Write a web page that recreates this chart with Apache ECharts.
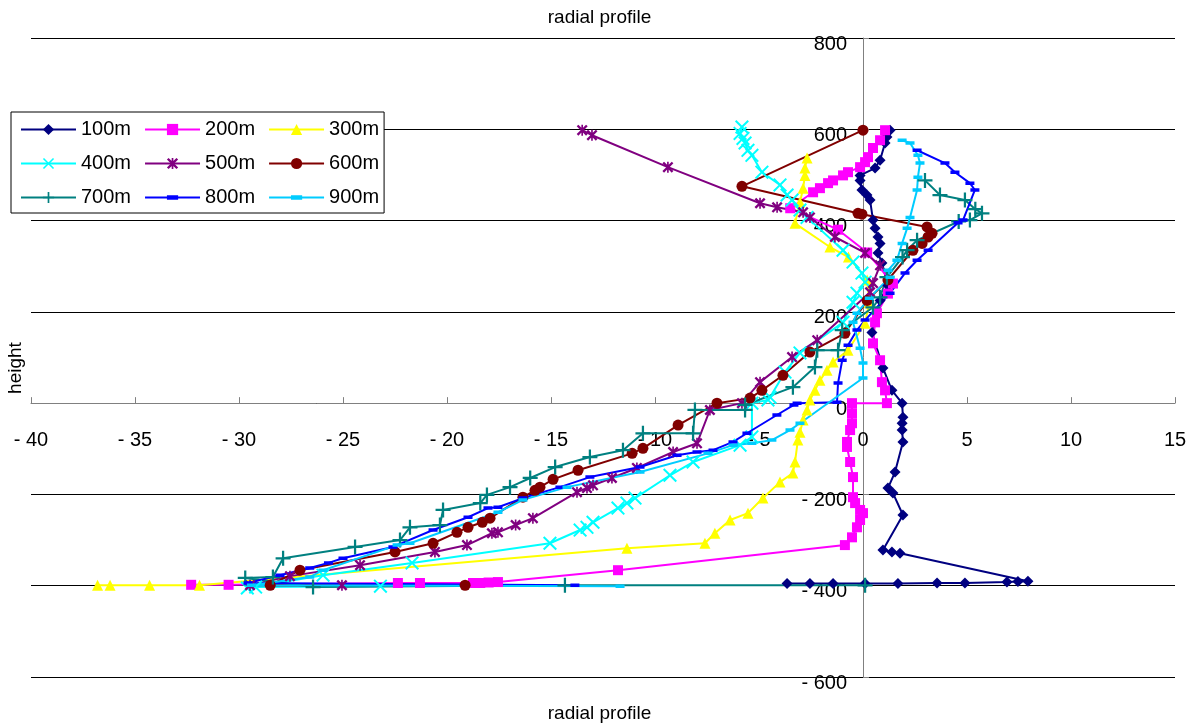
<!DOCTYPE html>
<html>
<head>
<meta charset="utf-8">
<script src="https://cdn.jsdelivr.net/npm/echarts@6/dist/echarts.min.js"></script>
<style>
  html, body { margin: 0; padding: 0; background: #fff; }
  #chart { width: 1199px; height: 728px; }
</style>
</head>
<body>
<div id="chart"></div>
<script>
// Radial profiles: [radial value, height] pairs for each distance
const seriesNames = ['100m', '200m', '300m', '400m', '500m', '600m', '700m', '800m', '900m'];

const s100 = [[1.3,598],[1.15,583],[1.06,570],[0.82,532],[0.58,515],[-0.14,499],[-0.14,488],[-0.05,467],[0.19,456],[0.34,445],[0.48,401],[0.58,383],[0.72,364],[0.82,350],[0.72,329],[0.91,307],[1.2,258],[0.82,225],[0.43,155],[0.96,77],[1.39,28],[1.88,0],[1.92,-31],[1.88,-44],[1.88,-59],[1.92,-85],[1.54,-151],[1.2,-186],[1.44,-197],[1.92,-245],[0.96,-322],[1.39,-326],[1.78,-329],[7.93,-390],[7.45,-391],[6.92,-392],[4.9,-394],[3.56,-394],[1.68,-395],[0.1,-395],[-1.44,-395],[-2.55,-395],[-3.65,-395]];

const s200 = [[1.06,598],[0.82,576],[0.48,559],[0.24,539],[0.1,528],[-0.14,517],[-0.72,506],[-0.96,499],[-1.44,488],[-1.68,482],[-2.07,471],[-2.4,462],[-3.5,427],[-1.2,380],[0.2,330],[1.44,262],[1.2,240],[0.67,197],[0.58,177],[0.48,131],[0.82,94],[0.91,46],[1.06,28],[1.15,0],[-0.53,0],[-0.53,-22],[-0.53,-44],[-0.62,-59],[-0.77,-85],[-0.77,-96],[-0.62,-129],[-0.48,-162],[-0.48,-206],[-0.38,-219],[-0.14,-234],[0,-241],[-0.14,-256],[-0.29,-272],[-0.53,-294],[-0.87,-311],[-11.78,-366],[-17.55,-392],[-18.0,-393],[-18.4,-394],[-18.75,-394],[-21.3,-394],[-22.36,-394],[-30.5,-398],[-32.3,-398]];

const s300 = [[-2.69,537],[-2.79,515],[-2.79,499],[-2.88,471],[-3.03,440],[-3.27,394],[-1.59,342],[-0.7,320],[0.2,270],[0.3,220],[0.1,175],[-0.72,116],[-1.44,90],[-1.73,72],[-2.07,50],[-2.31,28],[-2.55,7],[-2.69,-15],[-2.88,-37],[-3.03,-64],[-3.13,-81],[-3.27,-129],[-3.37,-153],[-3.99,-173],[-4.81,-208],[-5.53,-241],[-6.39,-256],[-7.12,-285],[-7.6,-307],[-11.35,-318],[-31.9,-399],[-34.3,-399],[-36.2,-399],[-36.8,-399]];

const s400 = [[-5.82,605],[-5.91,591],[-5.77,580],[-5.67,570],[-5.53,554],[-5.34,543],[-4.86,506],[-3.99,478],[-3.65,456],[-3.41,445],[-3.03,423],[-2.69,407],[-0.96,335],[-0.48,309],[-0.05,285],[0.1,265],[-0.29,241],[-0.48,221],[-0.96,177],[-3.03,110],[-3.75,68],[-4.47,13],[-4.57,7],[-5.34,0],[-5.34,-74],[-5.91,-92],[-8.17,-129],[-9.28,-158],[-10.96,-208],[-11.35,-219],[-11.78,-230],[-12.98,-261],[-13.27,-272],[-13.6,-278],[-15.05,-307],[-21.68,-350],[-25.96,-377],[-29.6,-405],[-29.2,-403],[-23.2,-401]];

const s500 = [[-13.5,598],[-13.03,587],[-9.38,517],[-4.95,438],[-4.13,429],[-2.88,418],[-2.55,407],[-1.35,364],[0.1,329],[0.82,302],[0.48,263],[0.34,243],[-2.2,138],[-3.41,101],[-4.95,46],[-5.82,0],[-7.36,-15],[-7.98,-88],[-9.13,-107],[-10.87,-142],[-12.07,-164],[-12.98,-180],[-13.27,-186],[-13.75,-195],[-15.87,-252],[-16.7,-267],[-17.55,-283],[-17.84,-285],[-19.04,-311],[-20.58,-326],[-24.18,-355],[-27.55,-379],[-29.47,-399],[-25.05,-399]];

const s600 = [[0,598],[-5.82,475],[-0.24,416],[-0.05,414],[3.08,386],[3.32,372],[3.13,364],[2.84,350],[2.4,335],[1.2,270],[0.2,225],[-0.87,153],[-2.55,112],[-3.85,61],[-4.86,28],[-5.43,11],[-7.02,0],[-8.89,-48],[-10.58,-99],[-11.1,-110],[-13.7,-147],[-14.9,-167],[-15.53,-184],[-15.77,-191],[-16.35,-206],[-17.93,-252],[-18.3,-261],[-18.99,-272],[-19.52,-283],[-20.67,-307],[-22.5,-326],[-27.07,-366],[-28.5,-399],[-19.13,-399]];

const s700 = [[2.98,488],[3.7,456],[4.9,445],[5.4,425],[5.72,416],[5.14,401],[4.6,398],[2.6,357],[2.12,335],[1.9,320],[1.15,276],[0.82,232],[0.48,210],[-1.0,160],[-1.2,116],[-2.2,116],[-2.31,79],[-3.37,35],[-5.67,-4],[-5.67,-15],[-8.08,-15],[-8.17,-66],[-10.58,-66],[-11.54,-103],[-13.13,-118],[-14.8,-140],[-16.0,-164],[-16.97,-184],[-18.08,-201],[-18.4,-219],[-20.19,-234],[-20.34,-267],[-21.78,-272],[-22.26,-300],[-24.42,-315],[-27.88,-340],[-28.37,-381],[-29.7,-383],[-26.44,-403],[-14.33,-399],[0.1,-399]];

const s800 = [[2.6,554],[3.94,526],[4.42,506],[5.14,482],[5.38,467],[4.81,401],[4.57,395],[3.13,335],[2.6,313],[2.02,285],[1.3,241],[0.1,182],[-0.29,160],[-0.72,127],[-1.0,94],[-1.2,44],[-1.25,2],[-3.17,0],[-3.32,-4],[-4.14,-26],[-5.58,-66],[-6.25,-85],[-7.21,-103],[-7.98,-107],[-8.94,-114],[-10.72,-140],[-13.13,-162],[-14.57,-184],[-16.35,-208],[-17.55,-228],[-18.03,-230],[-18.99,-250],[-20.67,-278],[-22.6,-315],[-25.0,-340],[-25.7,-350],[-26.6,-361],[-28.03,-377],[-29.57,-394],[-13.85,-399]];

const s900 = [[1.88,576],[2.26,570],[2.64,543],[2.74,526],[2.64,495],[2.6,467],[2.26,407],[2.12,383],[1.88,350],[1.63,313],[1.2,291],[1.3,276],[0.3,230],[-0.29,197],[-0.48,177],[-0.14,120],[0,88],[0,55],[-3.03,-44],[-3.51,-59],[-4.38,-81],[-5.34,-88],[-6.25,-92],[-7.45,-110],[-10.72,-151],[-14.23,-184],[-16.35,-212],[-17.55,-239],[-21.78,-307],[-22.4,-311],[-25.96,-366],[-26.6,-381],[-29.4,-399],[-11.68,-401]];

const seriesData = [s100, s200, s300, s400, s500, s600, s700, s800, s900];

// Axis ranges and tick steps
const xRange = [-40, 15, 5];
const yRange = [-600, 800, 200];

// Plot box in pixels; both axes are drawn through the origin
const GRID = { left: 31, right: 24, top: 38, bottom: 51 };
const PLOT_W = 1199 - GRID.left - GRID.right;
const PLOT_H = 728 - GRID.top - GRID.bottom;
const xZeroOffset = -PLOT_H * (0 - yRange[0]) / (yRange[1] - yRange[0]);
const yZeroOffset = -PLOT_W * (0 - xRange[0]) / (xRange[1] - xRange[0]);

// Marker shapes: diamond, square, triangle, cross, asterisk, dot, plus, dash, dash
const markX = 'path://M0,2L2,0L10,8L18,0L20,2L12,10L20,18L18,20L10,12L2,20L0,18L8,10Z';
const markStar = 'path://M0,3L3,0L10,7L17,0L20,3L13,10L20,17L17,20L10,13L3,20L0,17L7,10Z M8.5,0L11.5,0L11.5,20L8.5,20Z';
const markPlus = 'path://M8.5,0H11.5V8.5H20V11.5H11.5V20H8.5V11.5H0V8.5H8.5Z';
// a flat bar centred in a square box (tiny specks keep the box square)
const markDash = 'path://M0,5.5H18V12.5H0Z M9,0L9.01,0L9,0.01Z M9,18L9.01,18L9,17.99Z';
const styles = [
  { color: '#000080', symbol: 'diamond', size: 11 },
  { color: '#FF00FF', symbol: 'rect', size: 10 },
  { color: '#FFFF00', symbol: 'triangle', size: 11 },
  { color: '#00FFFF', symbol: markX, size: 14 },
  { color: '#800080', symbol: markStar, size: 11 },
  { color: '#800000', symbol: 'circle', size: 11 },
  { color: '#008080', symbol: markPlus, size: 15 },
  { color: '#0000FF', symbol: markDash, size: 9 },
  { color: '#00CCFF', symbol: markDash, size: 9 }
];

const FONT = "'Liberation Sans', Arial, sans-serif";
const fmt = v => (v < 0 ? '- ' + Math.abs(v) : String(v));

const chart = echarts.init(document.getElementById('chart'), null, { renderer: 'canvas' });

chart.setOption({
  animation: false,
  backgroundColor: '#ffffff',
  textStyle: { fontFamily: FONT },
  grid: { left: GRID.left, right: GRID.right, top: GRID.top, bottom: GRID.bottom, containLabel: false, outerBoundsMode: 'none' },
  legend: {
    left: 11, top: 112, width: 360,
    orient: 'horizontal',
    padding: [7, 5, 5, 9],
    itemWidth: 55, itemHeight: 14, itemGap: 13,
    backgroundColor: '#ffffff',
    borderColor: '#000000', borderWidth: 1,
    textStyle: { fontSize: 20, color: '#000', fontFamily: FONT, lineHeight: 21 },
    data: seriesNames
  },
  xAxis: {
    type: 'value', position: 'bottom', offset: xZeroOffset,
    min: xRange[0], max: xRange[1], interval: xRange[2],
    axisLine: { onZero: false, lineStyle: { color: '#808080', width: 1 } },
    axisTick: { show: true, inside: true, length: 6, lineStyle: { color: '#808080' } },
    axisLabel: { formatter: fmt, fontSize: 20, color: '#000', margin: 27, fontFamily: FONT },
    splitLine: { show: false }
  },
  yAxis: {
    type: 'value', position: 'left', offset: yZeroOffset,
    min: yRange[0], max: yRange[1], interval: yRange[2],
    axisLine: { onZero: false, lineStyle: { color: '#808080', width: 1 } },
    axisTick: { show: true, inside: true, length: 6, lineStyle: { color: '#808080' } },
    axisLabel: { formatter: fmt, fontSize: 20, color: '#000', margin: 16, fontFamily: FONT, verticalAlign: 'top', lineHeight: 12 },
    splitLine: { show: true, lineStyle: { color: '#000000', width: 1 } }
  },
  graphic: [
    { type: 'text', left: 'center', top: 8,
      style: { text: 'radial profile', fill: '#000', font: "19px 'Liberation Sans', Arial" } },
    { type: 'text', left: 'center', top: 704,
      style: { text: 'radial profile', fill: '#000', font: "19px 'Liberation Sans', Arial" } },
    { type: 'text', x: 16, y: 368, rotation: Math.PI / 2,
      style: { text: 'height', fill: '#000', font: "19px 'Liberation Sans', Arial", align: 'center', verticalAlign: 'middle' } }
  ],
  series: seriesData.map((d, i) => ({
    name: seriesNames[i],
    type: 'line',
    data: d,
    showAllSymbol: true,
    symbol: styles[i].symbol,
    symbolSize: styles[i].size,
    lineStyle: { color: styles[i].color, width: 2 },
    itemStyle: { color: styles[i].color, borderWidth: 0 },
    emphasis: { disabled: true },
    clip: true
  }))
});
</script>
</body>
</html>
